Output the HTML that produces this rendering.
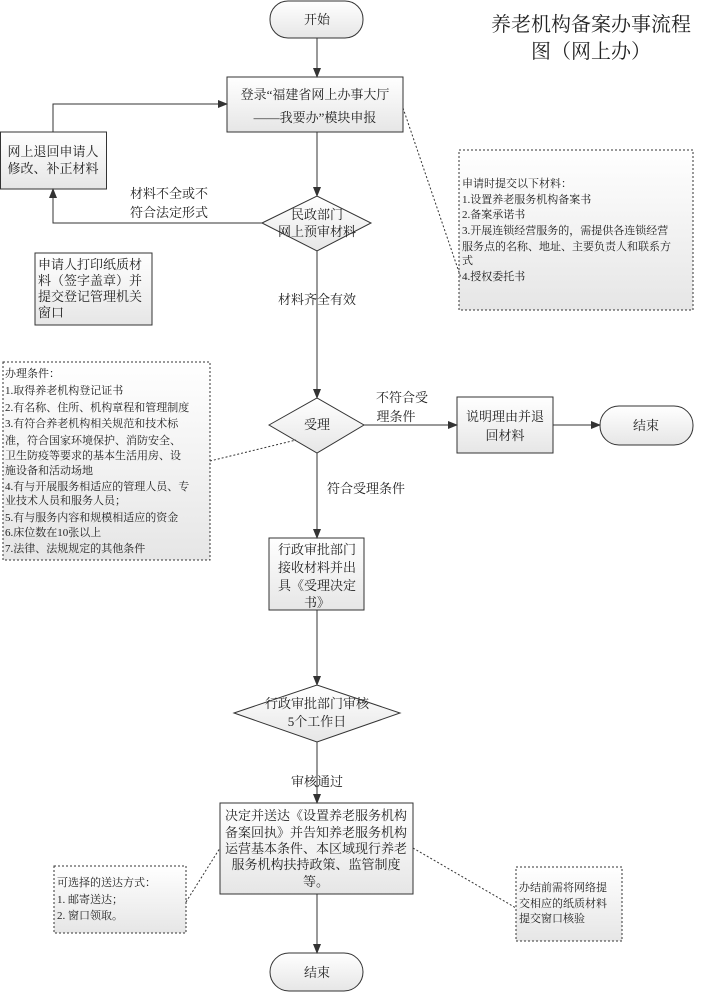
<!DOCTYPE html>
<html><head><meta charset="utf-8"><style>
html,body{margin:0;padding:0;background:#fff}
svg{display:block}
text{font-family:"Liberation Serif","Noto Serif CJK SC","Noto Sans CJK SC",serif;fill:#222}
</style></head><body>
<svg width="701" height="993" viewBox="0 0 701 993" xmlns="http://www.w3.org/2000/svg">
<defs>
<linearGradient id="g" x1="0" y1="0" x2="0" y2="1"><stop offset="0" stop-color="#ffffff"/><stop offset="1" stop-color="#e6e6e6"/></linearGradient>
<marker id="a" markerWidth="10" markerHeight="10" refX="9" refY="5" orient="auto" markerUnits="userSpaceOnUse"><path d="M0,1 L10,5 L0,9 z" fill="#333"/></marker>
</defs>
<g stroke="#333" stroke-width="1" fill="url(#g)">
<rect x="270" y="1" width="93" height="37" rx="18"/>
<rect x="227" y="77" width="176" height="55"/>
<rect x="0.5" y="132" width="106" height="57"/>
<polygon points="262,223 317,196 371,223 317,251"/>
<rect x="35" y="253" width="117" height="72"/>
<rect x="459" y="150" width="234" height="160" stroke-dasharray="2,2"/>
<rect x="3" y="362" width="207" height="198" stroke-dasharray="2,2"/>
<polygon points="269,425 317,398 364,425 317,453"/>
<rect x="457" y="397" width="96" height="56"/>
<rect x="600" y="406" width="93" height="39" rx="19"/>
<rect x="269" y="538" width="95" height="72"/>
<polygon points="234,713 317,685 400,713 317,742"/>
<rect x="220" y="803" width="193" height="91"/>
<rect x="54" y="866" width="132" height="67" stroke-dasharray="2,2"/>
<rect x="516" y="867" width="106" height="74" stroke-dasharray="2,2"/>
<rect x="270" y="953" width="93" height="38" rx="19"/>
</g>
<g stroke="#333" stroke-width="1" fill="none">
<line x1="317" y1="38" x2="317" y2="77" marker-end="url(#a)"/>
<line x1="317" y1="132" x2="317" y2="196" marker-end="url(#a)"/>
<polyline points="53,132 53,104 227,104" marker-end="url(#a)"/>
<polyline points="262,223 53,223 53,189" marker-end="url(#a)"/>
<line x1="317" y1="251" x2="317" y2="398" marker-end="url(#a)"/>
<line x1="364" y1="425" x2="457" y2="425" marker-end="url(#a)"/>
<line x1="553" y1="425" x2="600" y2="425" marker-end="url(#a)"/>
<line x1="317" y1="453" x2="317" y2="538" marker-end="url(#a)"/>
<line x1="317" y1="610" x2="317" y2="685" marker-end="url(#a)"/>
<line x1="317" y1="742" x2="317" y2="803" marker-end="url(#a)"/>
<line x1="317" y1="894" x2="317" y2="953" marker-end="url(#a)"/>
<g stroke-dasharray="2,2">
<line x1="403" y1="108" x2="461" y2="278"/>
<line x1="210" y1="461" x2="296" y2="440"/>
<line x1="186" y1="902" x2="220" y2="848"/>
<line x1="413" y1="848" x2="516" y2="908"/>
</g>
</g>
<g font-size="13" text-anchor="middle">
<text x="317" y="24">开始</text>
<text x="315" y="99">登录“福建省网上办事大厅</text>
<text x="315" y="122">——我要办”模块申报</text>
<text x="53" y="156">网上退回申请人</text>
<text x="53" y="173">修改、补正材料</text>
<text x="169" y="198">材料不全或不</text>
<text x="169" y="217">符合法定形式</text>
<text x="317" y="219">民政部门</text>
<text x="317" y="236">网上预审材料</text>
<text x="317" y="304">材料齐全有效</text>
<text x="317" y="429">受理</text>
<text x="402" y="402">不符合受</text>
<text x="396" y="421">理条件</text>
<text x="505" y="421">说明理由并退</text>
<text x="505" y="440">回材料</text>
<text x="646" y="430">结束</text>
<text x="366" y="493">符合受理条件</text>
<text x="317" y="554">行政审批部门</text>
<text x="317" y="572">接收材料并出</text>
<text x="317" y="590">具《受理决定</text>
<text x="317" y="607">书》</text>
<text x="317" y="708">行政审批部门审核</text>
<text x="317" y="726">5个工作日</text>
<text x="317" y="786">审核通过</text>
<text x="316" y="820">决定并送达《设置养老服务机构</text>
<text x="316" y="837">备案回执》并告知养老服务机构</text>
<text x="316" y="853">运营基本条件、本区域现行养老</text>
<text x="316" y="869">服务机构扶持政策、监管制度</text>
<text x="316" y="886">等。</text>
<text x="317" y="977">结束</text>
</g>
<g font-size="13">
<text x="38" y="269">申请人打印纸质材</text>
<text x="38" y="285">料（签字盖章）并</text>
<text x="38" y="301">提交登记管理机关</text>
<text x="38" y="317">窗口</text>
</g>
<g font-size="11">
<text x="462" y="187">申请时提交以下材料：</text>
<text x="462" y="203">1.设置养老服务机构备案书</text>
<text x="462" y="218">2.备案承诺书</text>
<text x="462" y="234">3.开展连锁经营服务的，需提供各连锁经营</text>
<text x="462" y="250">服务点的名称、地址、主要负责人和联系方</text>
<text x="462" y="264">式</text>
<text x="462" y="280">4.授权委托书</text>
<text x="5" y="377">办理条件：</text>
<text x="5" y="394">1.取得养老机构登记证书</text>
<text x="5" y="411">2.有名称、住所、机构章程和管理制度</text>
<text x="5" y="427">3.有符合养老机构相关规范和技术标</text>
<text x="5" y="444">准，符合国家环境保护、消防安全、</text>
<text x="5" y="459">卫生防疫等要求的基本生活用房、设</text>
<text x="5" y="474">施设备和活动场地</text>
<text x="5" y="490">4.有与开展服务相适应的管理人员、专</text>
<text x="5" y="504">业技术人员和服务人员；</text>
<text x="5" y="521">5.有与服务内容和规模相适应的资金</text>
<text x="5" y="536">6.床位数在10张以上</text>
<text x="5" y="552">7.法律、法规规定的其他条件</text>
<text x="57" y="886">可选择的送达方式：</text>
<text x="57" y="903">1. 邮寄送达；</text>
<text x="57" y="919">2. 窗口领取。</text>
<text x="519" y="891">办结前需将网络提</text>
<text x="519" y="907">交相应的纸质材料</text>
<text x="519" y="922">提交窗口核验</text>
</g>
<g font-size="20" text-anchor="middle">
<text x="591" y="31">养老机构备案办事流程</text>
<text x="591" y="58">图（网上办）</text>
</g>
</svg>
</body></html>
